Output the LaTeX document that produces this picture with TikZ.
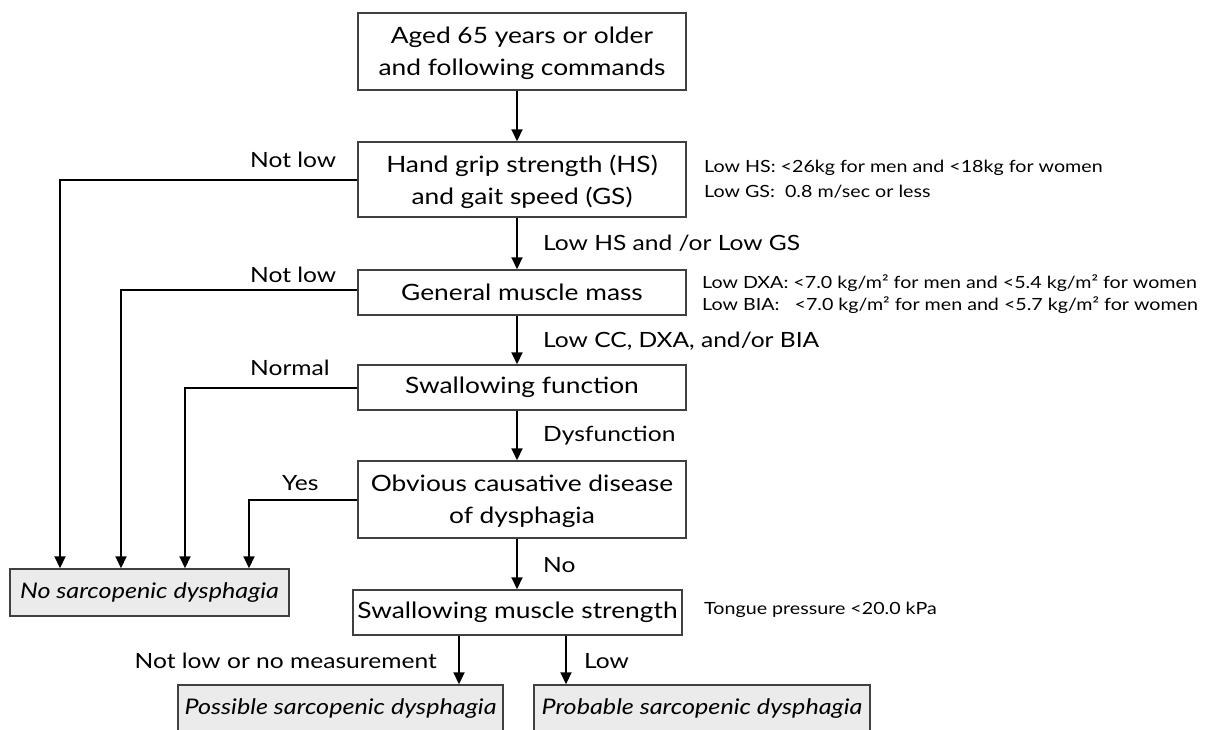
\documentclass[tikz,border=0pt]{standalone}
\usepackage{fontspec}
\setmainfont{Lato}[FakeStretch=1.17]
\usetikzlibrary{arrows.meta}
\definecolor{boxline}{HTML}{404040}
\definecolor{boxfill}{HTML}{EBEBEB}
\tikzset{
  flowbox/.style={draw=boxline, line width=1.5pt, fill=white, align=center, inner sep=0pt, font=\fontsize{22.5}{32}\selectfont},
  twoline/.style={text depth=0pt},
  endbox/.style={draw=boxline, line width=1.5pt, fill=boxfill, align=center, inner sep=0pt, font=\fontsize{21.5}{28}\selectfont\itshape},
  conn/.style={line width=2pt, -{Triangle[length=12pt,width=11pt]}},
  lbl/.style={inner sep=0pt, font=\fontsize{21}{25}\selectfont},
  note/.style={inner sep=0pt, anchor=west, font=\fontsize{16.8}{20}\selectfont},
}
\begin{document}
\begin{tikzpicture}[x=1pt,y=-1pt]
\useasboundingbox (0,0) rectangle (1209,729);
% boxes
\node[flowbox, twoline, minimum width=328pt, minimum height=77pt] (b1) at (522,51.5) {Aged 65 years or older\\and following commands};
\node[flowbox, twoline, minimum width=328pt, minimum height=75pt] (b2) at (522,179.5) {Hand grip strength (HS)\\and gait speed (GS)};
\node[flowbox, minimum width=328pt, minimum height=45pt] (b3) at (522,292.5) {General muscle mass};
\node[flowbox, minimum width=328pt, minimum height=45pt] (b4) at (522,387.5) {Swallowing function};
\node[flowbox, twoline, minimum width=328pt, minimum height=77pt] (b5) at (522,499.5) {Obvious causative disease\\of dysphagia};
\node[flowbox, minimum width=329pt, minimum height=45pt] (b6) at (517.5,612.5) {Swallowing muscle strength};
\node[endbox, minimum width=279pt, minimum height=47pt] (no) at (149.5,592.5) {No sarcopenic dysphagia};
\node[endbox, minimum width=325pt, minimum height=48pt] (pos) at (340.5,709) {Possible sarcopenic dysphagia};
\node[endbox, minimum width=336pt, minimum height=48pt] (prob) at (702,709) {Probable sarcopenic dysphagia};

% coordinates
\coordinate (c1) at (60,180);
\coordinate (c2) at (121,290);
\coordinate (c3) at (185,388);
\coordinate (c4) at (249,500);

% main column
\draw[conn] (b1.south -| 517,0) -- (b2.north -| 517,0);
\draw[conn] (b2.south -| 517,0) -- (b3.north -| 517,0);
\draw[conn] (b3.south -| 517,0) -- (b4.north -| 517,0);
\draw[conn] (b4.south -| 517,0) -- (b5.north -| 517,0);
\draw[conn] (b5.south -| 517,0) -- (b6.north -| 517,0);
\draw[conn] (b6.south -| 459,0) -- (pos.north -| 459,0);
\draw[conn] (b6.south -| 566,0) -- (prob.north -| 566,0);

% left branches
\draw[conn] (b2.west |- c1) -- (c1) -- (no.north -| c1);
\draw[conn] (b3.west |- c2) -- (c2) -- (no.north -| c2);
\draw[conn] (b4.west |- c3) -- (c3) -- (no.north -| c3);
\draw[conn] (b5.west |- c4) -- (c4) -- (no.north -| c4);

% labels
\node[lbl, anchor=west] (l1) at (250,160) {Not low};
\node[lbl, anchor=west] (l2) at (250,275) {Not low};
\node[lbl, anchor=west] (l3) at (250,368) {Normal};
\node[lbl, anchor=west] (l4) at (282,483) {Yes};
\node[lbl, anchor=west] (l5) at (543,243) {Low HS and /or Low GS};
\node[lbl, anchor=west] (l6) at (543,341) {Low CC, DXA, and/or BIA};
\node[lbl, anchor=west] (l7) at (543,436) {Dysfunction};
\node[lbl, anchor=west] (l8) at (543,565) {No};
\node[lbl, anchor=east] (l9) at (437,661) {Not low or no measurement};
\node[lbl, anchor=west] (l10) at (584,661) {Low};

% notes
\node[note] (n1) at (704,168) {Low HS: <26kg for men and <18kg for women};
\node[note] (n2) at (704,192) {Low GS:\ \ 0.8 m/sec or less};
\node[note] (n3) at (702,283) {Low DXA: <7.0 kg/m² for men and <5.4 kg/m² for women};
\node[note] (n4) at (702,305) {Low BIA:\ \ \ <7.0 kg/m² for men and <5.7 kg/m² for women};
\node[note] (n5) at (704,610) {Tongue pressure <20.0 kPa};
\end{tikzpicture}
\end{document}
